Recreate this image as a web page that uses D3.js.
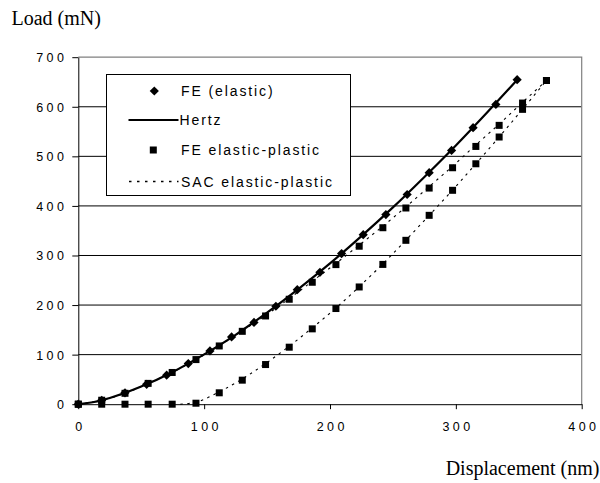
<!DOCTYPE html>
<html><head><meta charset="utf-8">
<script src="https://cdn.jsdelivr.net/npm/d3@7"></script>
<style>
html,body{margin:0;padding:0;background:#fff;}
svg{display:block;}
</style>
</head><body>
<svg id="chart" width="600" height="483"></svg>
<script>
// ---- data ----
const xTicks = [0, 100, 200, 300, 400];
const yTicks = [0, 100, 200, 300, 400, 500, 600, 700];

const feElasticX = [0, 18.6, 37.1, 54.3, 70.2, 87.4, 104.6, 121.8, 139.6, 157, 174, 192, 209.2, 226.4, 244.4, 261.3, 278.8, 296.6, 313.7, 331.8, 348.7];
const feElasticY = [0, 8, 23, 40, 58.5, 82, 107.5, 135.7, 165, 197.6, 231, 266, 303.8, 342, 382.5, 423, 467, 512, 557.8, 604.8, 654.6];

const hertzX = [0, 12.5, 25, 50, 75, 100, 125, 150, 175, 200, 225, 250, 275, 300, 325, 349];
const hertzY = [0, 4.4, 12.6, 35.5, 65, 100.5, 140, 184.6, 232.7, 284, 339, 397, 458.5, 522, 589, 655];

const fepX = [0, 18.6, 37.1, 55.5, 74.6, 93.5, 112, 130.3, 148.8, 167.6, 185.9, 204.7, 223.2, 242, 260.3, 278.8, 297.4, 315.9, 334.4, 353, 372];
const fepLowerY = [0, 0, 0, 0, 0, 2, 23, 48.5, 80, 115, 152, 193, 236.5, 282, 330.6, 381, 431.5, 485, 539, 594.8, 653];
const fepUpperY = [0, 8, 22, 42, 64, 90, 117.5, 147, 178, 211.7, 246, 281.6, 318.7, 356, 395.8, 436, 477, 520, 562.5, 607.5, 653];

const sacLowerX = [81, 93.5, 112, 130.3, 148.8, 167.6, 185.9, 204.7, 223.2, 242, 260.3, 278.8, 297.4, 315.9, 334.4, 353, 372];
const sacLowerY = [0, 4, 25, 51, 82, 117, 154, 194, 237, 283, 331, 381, 432, 485, 539, 595, 653];
const sacUpperX = [0, 18.6, 37.1, 55.5, 74.6, 93.5, 112, 130.3, 148.8, 167.6, 185.9, 204.7, 223.2, 242, 260.3, 278.8, 297.4, 315.9, 334.4, 353, 372];
const sacUpperY = [0, 8, 22, 42, 64, 90, 118, 148, 179, 213, 248, 284, 321, 359, 398, 439, 480, 523, 565, 609, 653];

const legendLabels = ["FE (elastic)", "Hertz", "FE elastic-plastic", "SAC elastic-plastic"];
const xTitle = "Displacement (nm)";
const yTitle = "Load (mN)";

// ---- drawing ----
const svg = d3.select("#chart");
const x = d3.scaleLinear().domain([0, 400]).range([78.3, 581.7]);
const y = d3.scaleLinear().domain([0, 700]).range([404.2, 57.2]);

const zip = (a, b) => a.map((v, i) => [v, b[i]]);
const SANS = "'Liberation Sans', Arial, sans-serif";
const SERIF = "'Liberation Serif', 'Times New Roman', serif";

// gridlines
svg.append("g").selectAll("line").data(yTicks.filter(t => t > 0 && t < 700)).join("line")
  .attr("x1", x(0)).attr("x2", x(400))
  .attr("y1", d => y(d)).attr("y2", d => y(d))
  .attr("stroke", "#000").attr("stroke-width", 1);

// plot border top/right (gray)
svg.append("path")
  .attr("d", `M${x(0)},${y(700)}H${x(400)}V${y(0)}`)
  .attr("fill", "none").attr("stroke", "#808080").attr("stroke-width", 1.2);

// axes
const xAxis = d3.axisBottom(x).tickValues(xTicks).tickSize(5).tickSizeOuter(0).tickFormat(d3.format("d"));
const gx = svg.append("g").attr("transform", `translate(0,${y(0)})`).call(xAxis);
gx.select(".domain").attr("stroke", "#000");
gx.selectAll(".tick line").attr("stroke", "#000");
gx.selectAll(".tick text").attr("font-family", SANS)
  .attr("font-size", 12.5).attr("letter-spacing", "3.4px").attr("fill", "#000")
  .attr("dy", null).attr("y", 26.7).attr("dx", 1.7);

const yAxis = d3.axisLeft(y).tickValues(yTicks).tickSize(6).tickSizeOuter(0).tickFormat(d3.format("d"));
const gy = svg.append("g").attr("transform", `translate(${x(0)},0)`).call(yAxis);
gy.select(".domain").attr("stroke", "#000");
gy.selectAll(".tick line").attr("stroke", "#000");
gy.selectAll(".tick text").attr("font-family", SANS)
  .attr("font-size", 12.5).attr("letter-spacing", "3.4px").attr("fill", "#000")
  .attr("x", -11).attr("dy", "0.36em");
svg.selectAll(".domain").attr("stroke-width", 1);

// titles
svg.append("text").attr("x", 11.5).attr("y", 24.5)
  .style("font-family", SERIF).style("font-size", "20px").style("font-weight", "normal")
  .text(yTitle);
svg.append("text").attr("x", 599.5).attr("y", 475).attr("text-anchor", "end")
  .style("font-family", SERIF).style("font-size", "20px").style("font-weight", "normal")
  .text(xTitle);

// lines
const smooth = d3.line().x(d => x(d[0])).y(d => y(d[1])).curve(d3.curveMonotoneX);

svg.append("path").attr("d", smooth(zip(sacUpperX, sacUpperY)))
  .attr("fill", "none").attr("stroke", "#000").attr("stroke-width", 1.1).attr("stroke-dasharray", "2.5,4.5");
svg.append("path").attr("d", smooth(zip(sacLowerX, sacLowerY)))
  .attr("fill", "none").attr("stroke", "#000").attr("stroke-width", 1.1).attr("stroke-dasharray", "2.5,4.5");
svg.append("path").attr("d", smooth(zip(hertzX, hertzY)))
  .attr("fill", "none").attr("stroke", "#000").attr("stroke-width", 2.2);

// squares
const sq = 7;
const squares = zip(fepX, fepLowerY).concat(zip(fepX, fepUpperY));
svg.append("g").selectAll("rect").data(squares).join("rect")
  .attr("x", d => x(d[0]) - sq / 2).attr("y", d => y(d[1]) - sq / 2)
  .attr("width", sq).attr("height", sq).attr("fill", "#000");

// diamonds
const dm = 4.6;
const diamondPath = (cx, cy) => `M${cx},${cy - dm}L${cx + dm},${cy}L${cx},${cy + dm}L${cx - dm},${cy}Z`;
svg.append("g").selectAll("path").data(zip(feElasticX, feElasticY)).join("path")
  .attr("d", d => diamondPath(x(d[0]), y(d[1]))).attr("fill", "#000");

// legend
const lg = svg.append("g");
lg.append("rect").attr("x", 106.5).attr("y", 74.5).attr("width", 244).attr("height", 121)
  .attr("fill", "#fff").attr("stroke", "#000").attr("stroke-width", 1);
const rowsY = [91, 120, 150, 181.5];
const legFont = t => t.attr("font-family", SANS).attr("font-size", 14)
  .attr("letter-spacing", "1.9px").attr("fill", "#000").attr("dy", "0.36em");
lg.append("path").attr("d", diamondPath(154.3, rowsY[0])).attr("fill", "#000");
lg.append("line").attr("x1", 128.5).attr("x2", 178.5).attr("y1", rowsY[1]).attr("y2", rowsY[1])
  .attr("stroke", "#000").attr("stroke-width", 2.2);
lg.append("rect").attr("x", 153.3 - sq / 2).attr("y", rowsY[2] - sq / 2).attr("width", sq).attr("height", sq).attr("fill", "#000");
lg.append("line").attr("x1", 129).attr("x2", 178.5).attr("y1", rowsY[3]).attr("y2", rowsY[3])
  .attr("stroke", "#000").attr("stroke-width", 1.3).attr("stroke-dasharray", "2.5,5.5");
const textX = [181, 179.5, 181, 181];
legendLabels.forEach((s, i) => {
  lg.append("text").attr("x", textX[i]).attr("y", rowsY[i]).call(legFont).text(s);
});
</script>
</body></html>
